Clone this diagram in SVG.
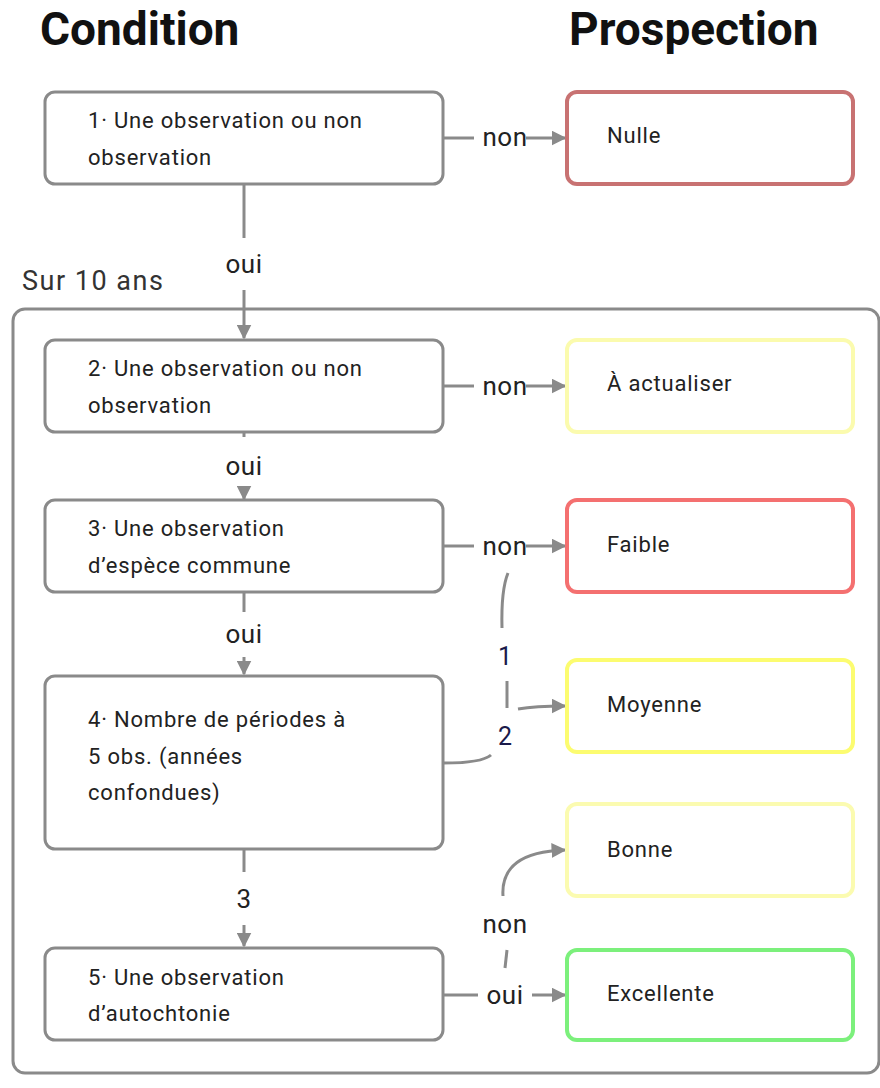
<svg xmlns="http://www.w3.org/2000/svg" width="880" height="1088" viewBox="0 0 880 1088">
<defs>
<style>
.title{font-family:Roboto,"Liberation Sans",sans-serif;font-weight:bold;font-size:46px;fill:#111}
.nt{font-family:Roboto,"Liberation Sans",sans-serif;font-size:22px;letter-spacing:0.8px;fill:#222}
.lbl{font-family:Roboto,"Liberation Sans",sans-serif;font-size:26px;letter-spacing:0.5px;fill:#222;text-anchor:middle}
.num{font-family:Roboto,"Liberation Sans",sans-serif;font-size:25px;fill:#1a1a4a;text-anchor:middle}
.cond{fill:#fff;stroke:#8a8a8a;stroke-width:3}
.out{fill:#fff;stroke-width:4}
.edge{fill:none;stroke:#8a8a8a;stroke-width:3}
</style>
<marker id="ah" viewBox="0 0 10 10" refX="9" refY="5" markerWidth="5" markerHeight="5" orient="auto" markerUnits="strokeWidth">
<path d="M0,0 L10,5 L0,10 z" fill="#8a8a8a"/>
</marker>
</defs>
<rect width="880" height="1088" fill="#fff"/>
<text class="title" x="40" y="45">Condition</text>
<text class="title" x="569" y="45">Prospection</text>

<g id="group10">
<rect x="13" y="309" width="866" height="764" rx="12" fill="none" stroke="#8a8a8a" stroke-width="3"/>
<text x="22" y="290" font-family="Roboto,'Liberation Sans',sans-serif" font-size="27" letter-spacing="1.5" fill="#333">Sur 10 ans</text>
</g>

<g id="connectors">
<path class="edge" d="M443 138 H474"/>
<text class="lbl" x="505" y="146">non</text>
<path class="edge" d="M526 138 H565" marker-end="url(#ah)"/>
<path class="edge" d="M244 184 V238"/>
<text class="lbl" x="244" y="273">oui</text>
<path class="edge" d="M244 290 V338" marker-end="url(#ah)"/>

<path class="edge" d="M443 386 H474"/>
<text class="lbl" x="505" y="395">non</text>
<path class="edge" d="M526 386 H565" marker-end="url(#ah)"/>
<path class="edge" d="M244 432 V437"/>
<text class="lbl" x="244" y="475">oui</text>
<path class="edge" d="M244 493 V499" marker-end="url(#ah)"/>

<path class="edge" d="M443 546 H474"/>
<text class="lbl" x="505" y="555">non</text>
<path class="edge" d="M526 546 H565" marker-end="url(#ah)"/>
<path class="edge" d="M244 592 V612"/>
<text class="lbl" x="244" y="643">oui</text>
<path class="edge" d="M244 657 V674" marker-end="url(#ah)"/>

<path class="edge" d="M508 573 Q501 590 502 628"/>
<text class="num" x="505" y="665">1</text>
<path class="edge" d="M507 681 V708"/>
<path class="edge" d="M518 709 Q535 706 565 706" marker-end="url(#ah)"/>
<path class="edge" d="M443 763 Q482 763 491 755"/>
<text class="num" x="505" y="745">2</text>

<path class="edge" d="M244 849 V872"/>
<text class="lbl" x="244" y="908">3</text>
<path class="edge" d="M244 925 V946" marker-end="url(#ah)"/>

<path class="edge" d="M443 995 H478"/>
<text class="lbl" x="505" y="1004">oui</text>
<path class="edge" d="M532 995 H565" marker-end="url(#ah)"/>
<path class="edge" d="M505 968 L507 950"/>
<text class="lbl" x="505" y="933">non</text>
<path class="edge" d="M503 896 Q500 852 565 850" marker-end="url(#ah)"/>
</g>

<g id="n1"><rect class="cond" x="45" y="92" width="398" height="92" rx="10"/>
<text class="nt" x="88" y="128">1· Une observation ou non</text>
<text class="nt" x="88" y="165">observation</text></g>
<g id="n2"><rect class="cond" x="45" y="340" width="398" height="92" rx="10"/>
<text class="nt" x="88" y="376">2· Une observation ou non</text>
<text class="nt" x="88" y="413">observation</text></g>
<g id="n3"><rect class="cond" x="45" y="500" width="398" height="92" rx="10"/>
<text class="nt" x="88" y="536">3· Une observation</text>
<text class="nt" x="88" y="573">d’espèce commune</text></g>
<g id="n4"><rect class="cond" x="45" y="676" width="398" height="173" rx="10"/>
<text class="nt" x="88" y="727">4· Nombre de périodes à</text>
<text class="nt" x="88" y="764">5 obs. (années</text>
<text class="nt" x="88" y="800">confondues)</text></g>
<g id="n5"><rect class="cond" x="45" y="948" width="398" height="92" rx="10"/>
<text class="nt" x="88" y="985">5· Une observation</text>
<text class="nt" x="88" y="1021">d’autochtonie</text></g>

<g id="nulle"><rect class="out" x="567" y="92" width="286" height="92" rx="10" stroke="#c87272"/>
<text class="nt" x="607" y="143">Nulle</text></g>
<g id="actualiser"><rect class="out" x="567" y="340" width="286" height="92" rx="10" stroke="#fbfbae"/>
<text class="nt" x="607" y="391">À actualiser</text></g>
<g id="faible"><rect class="out" x="567" y="500" width="286" height="92" rx="10" stroke="#f47070"/>
<text class="nt" x="607" y="552">Faible</text></g>
<g id="moyenne"><rect class="out" x="567" y="660" width="286" height="92" rx="10" stroke="#fcfc70"/>
<text class="nt" x="607" y="712">Moyenne</text></g>
<g id="bonne"><rect class="out" x="567" y="804" width="286" height="92" rx="10" stroke="#fbfbb0"/>
<text class="nt" x="607" y="857">Bonne</text></g>
<g id="excellente"><rect class="out" x="567" y="950" width="286" height="90" rx="10" stroke="#7cf07c"/>
<text class="nt" x="607" y="1001">Excellente</text></g>
</svg>
